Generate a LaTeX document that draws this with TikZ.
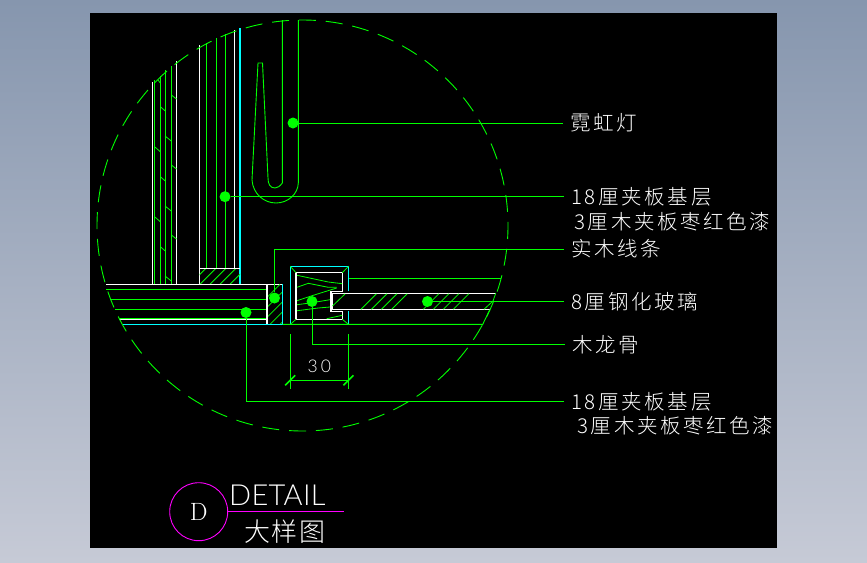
\documentclass[tikz,border=0pt]{standalone}
\usepackage{fontspec}
\usetikzlibrary{positioning}
\newfontfamily\cadfont[LetterSpace=13]{Noto Sans CJK SC Light}
\newfontfamily\titlefont[LetterSpace=7]{Noto Sans CJK SC Light}
\newfontfamily\detailfont[LetterSpace=1]{Lato Light}
\newfontfamily\dimfont[LetterSpace=14]{Lato Light}
\definecolor{cadgreen}{RGB}{0,255,0}
\definecolor{cadcyan}{RGB}{0,255,255}
\definecolor{cadpink}{RGB}{255,0,255}
\definecolor{sheettop}{RGB}{134,150,174}
\definecolor{sheetbottom}{RGB}{198,202,214}
\tikzset{
    gline/.style={cadgreen,line width=0.9pt},
    wline/.style={white,line width=1.1pt},
    cline/.style={cadcyan,line width=1.1pt},
    hatchline/.style={cadgreen,line width=0.8pt},
    leader/.style={cadgreen,line width=0.9pt},
    leaderdot/.style={circle,fill=cadgreen,inner sep=0pt,minimum size=11pt},
    note/.style={white,anchor=west,inner xsep=7pt,inner ysep=0pt,font=\cadfont\fontsize{20.5}{20.5}\selectfont},
}
\begin{document}
\begin{tikzpicture}[x=1pt,y=-1pt]

    \useasboundingbox (0,0) rectangle (867,562);
    \shade[top color=sheettop,bottom color=sheetbottom] (0,0) rectangle (867,562);
    \fill[black] (90,13) rectangle (777,548);

    % left wall
    \draw[wline] (152.7,82)--(152.7,284);
    \draw[wline] (176.5,61)--(176.5,284);
    \draw[gline] (154.5,80)--(154.5,284);
    \draw[gline] (160.3,76)--(160.3,284);
    \draw[gline] (165,70)--(165,284);
    \draw[gline] (171.3,66)--(171.3,284);
    \foreach \y in {146.7,216.7} \draw[hatchline] (154.5,\y)--(160.3,\y+5);
    \draw[hatchline] (158,80)--(160.3,83);
    \foreach \y in {106.7,176.7,246.7} \draw[hatchline] (160.3,\y)--(165,\y+4);
    \foreach \y in {136,206,276} \draw[hatchline] (165,\y)--(171.3,\y+5);
    \foreach \y in {95,165,235} \draw[hatchline] (171.3,\y)--(176.5,\y+4);

    % second wall
    \draw[wline] (199.5,45)--(199.5,284);
    \draw[gline] (206.5,43)--(206.5,268);
    \draw[gline] (216,38)--(216,268);
    \draw[gline] (225.5,34)--(225.5,268);
    \draw[wline] (234.5,30)--(234.5,268);
    \draw[cline] (240,28)--(240,284);

    % neon tube
    \draw[gline] (282.3,20)--(282.3,183) .. controls (280,186) and (278,188) .. (275,188) .. controls (270,188) and (268,184) .. (268,178)
        --(262.5,63)--(258,63)--(252.5,170)--(252,180) .. controls (253,194) and (264,203) .. (276,203) .. controls (288,203) and (298,194) .. (298.3,183)--(298.3,20);

    % floor
    \begin{scope}
        \clip (199.5,268.3) rectangle (240,284.3);
        \foreach \x in {190,200,...,250} \draw[hatchline] (\x,284.3)--(\x+16,268.3);
    \end{scope}
    \draw[wline] (199.5,268.3)--(240,268.3);
    \draw[gline] (106,289.3)--(267,289.3);
    \draw[gline] (110,299.4)--(267,299.4);
    \draw[gline] (115,309.4)--(267,309.4);
    \draw[gline] (119,318)--(267,318);
    \draw[wline] (119,319.6)--(267,319.6);
    \draw[wline] (106,284.3)--(282.7,284.3);
    \begin{scope}
        \clip (267,284.3) rectangle (282.7,324.4);
        \foreach \x in {240,250,...,290} \draw[hatchline] (\x,324.4)--(\x+40,284.4);
    \end{scope}
    \draw[wline] (267,284.3)--(267,324.4);
    \draw[cline] (282.7,284.3)--(282.7,324.4);
    \draw[cline] (122,324.4)--(282.7,324.4);

    % frame
    \draw[cline] (348.5,291.3)--(348.5,266.3)--(290.3,266.3)--(290.3,324.4);
    \draw[cline] (348.5,311.3)--(348.5,324.4);
    \draw[wline] (342.3,291.3)--(342.3,272.7)--(296,272.7)--(296,319.3)--(342.3,319.3)--(342.3,311.3)--(331,311.3)--(331,291.3)--cycle;
    \draw[gline] (282.7,324.4)--(482.7,324.4)--(490,309.3);
    \draw[gline] (348.5,278.3)--(500.7,278.3);
    \draw[hatchline] (290.3,266.3)--(296,272.7);
    \draw[hatchline] (348.5,266.3)--(342.3,272.7);
    \draw[hatchline] (290.3,324.4)--(296,319.3);
    \draw[hatchline] (348.5,324.4)--(342.3,319.3);
    \draw[hatchline] (297,275.3)--(328.3,282)--(342.3,283.7);
    \draw[hatchline] (297,287.3)--(308.3,283.3)--(328.3,287.3)--(336.7,287.3);
    \draw[hatchline] (297,300.7)--(313.3,295.3)--(336.7,288);
    \draw[hatchline] (297,304.7)--(312,302.7)--(330,299.7);
    \draw[hatchline] (297,310.7)--(318.3,308)--(330,307);
    \draw[hatchline] (326.7,318.7)--(342.3,315.3);

    % glass
    \draw[wline] (496,293.3)--(332.5,293.3)--(332.5,309.3)--(490,309.3);
    \draw[hatchline] (332.5,306)--(345,294);
    \foreach \x in {361,371.5,381.5,391.7,423.3,433.3,443.3,453.3} \draw[hatchline] (\x,309.3)--(\x+15.5,293.8);
    \draw[hatchline] (484,309.3)--(493,301)--(495.7,293.3);

    % break circle
    \draw[cadgreen,line width=0.9pt,dash pattern=on 17pt off 9.9pt,dash phase=3.5pt] (302.5,225.5) circle (205.5);

    % dimension
    \coordinate (dimleft) at (290.3,380.3);
    \coordinate (dimright) at (348.4,380.3);
    \draw[gline] (290.3,334)--(290.3,389);
    \draw[gline] (348.4,334)--(348.4,389);
    \draw[gline] (dimleft)--(dimright) node[midway,above=3.5pt,white,font=\dimfont\fontsize{17.5}{17.5}\selectfont] (dimtext) {3\,0};
    \draw[cadgreen,line width=1.6pt] (285.3,385.3)--(295.3,375.3);
    \draw[cadgreen,line width=1.6pt] (343.4,385.3)--(353.4,375.3);

    % notes
    \node[note] (neonlabel) at (563,123) {霓虹灯};
    \node[note] (panellabel) at (564,196.7) {18厘夹板基层};
    \node[note] (paintlabel) at (567,222) {3厘木夹板枣红色漆};
    \node[note] (linelabel) at (564,249) {实木线条};
    \node[note] (glasslabel) at (564,301.5) {8厘钢化玻璃};
    \node[note] (keellabel) at (565,344.5) {木龙骨};
    \node[note] (floorlabel) at (564,401.5) {18厘夹板基层};
    \node[note] (floorpaint) at (570,426) {3厘木夹板枣红色漆};

    \node[leaderdot] (neondot) at (293,123) {};
    \node[leaderdot] (paneldot) at (225,196.7) {};
    \node[leaderdot] (linedot) at (274.5,298) {};
    \node[leaderdot] (glassdot) at (427.5,301.5) {};
    \node[leaderdot] (keeldot) at (312,301.5) {};
    \node[leaderdot] (floordot) at (246,312.5) {};

    \draw[leader] (neondot)--(neonlabel.west);
    \draw[leader] (paneldot)--(panellabel.west);
    \draw[leader] (linedot)|-(linelabel.west);
    \draw[leader] (glassdot)--(glasslabel.west);
    \draw[leader] (keeldot)|-(keellabel.west);
    \draw[leader] (floordot)|-(floorlabel.west);

    % title
    \node[circle,draw=cadpink,text=white,line width=0.9pt,minimum size=58pt,inner sep=0pt,font=\fontsize{25}{25}\selectfont] (detailmark) at (198.7,511.7) {D};
    \coordinate (titleend) at (344,511.7);
    \draw[cadpink,line width=0.9pt] (detailmark)--(titleend);
    \node[white,anchor=south west,inner sep=0pt,font=\detailfont\fontsize{29}{29}\selectfont] (detailtitle) at (229,505.5) {DETAIL};
    \node[white,anchor=center,inner sep=0pt,font=\titlefont\fontsize{26}{26}\selectfont] (titlecn) at (285,532) {大样图};

\end{tikzpicture}
\end{document}
